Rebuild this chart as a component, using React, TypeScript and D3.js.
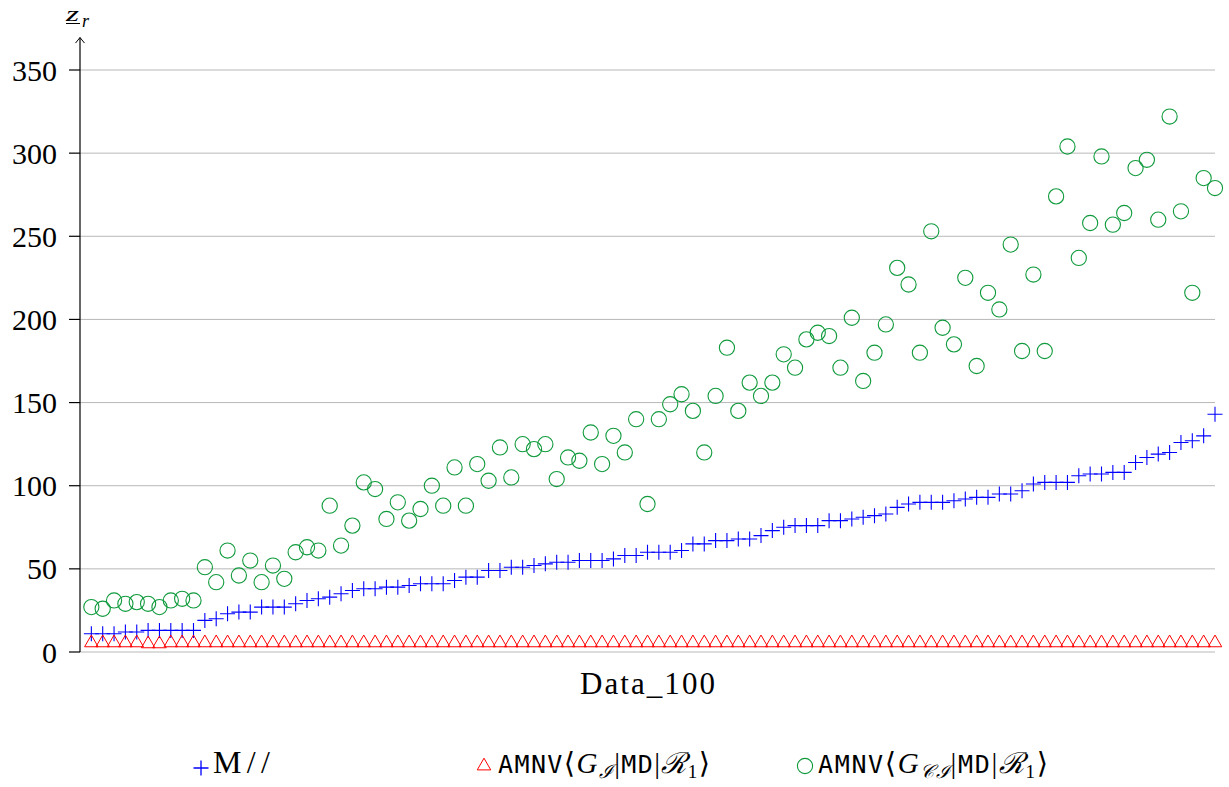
import React from 'react';
import * as d3 from 'd3';

const blueValues = [
  11, 11, 11, 12, 12, 13, 13, 13, 13, 13,
  19, 20, 23, 24, 24, 27, 27, 27, 29, 31,
  32, 33, 35, 37, 38, 38, 39, 39, 40, 41,
  41, 41, 43, 45, 45, 49, 49, 51, 51, 52,
  53, 54, 54, 55, 55, 55, 56, 58, 58, 60,
  60, 60, 61, 65, 65, 67, 67, 68, 68, 70,
  73, 75, 76, 76, 76, 79, 79, 80, 81, 82,
  83, 87, 89, 90, 90, 90, 91, 92, 93, 93,
  95, 95, 97, 101, 102, 102, 102, 106, 107, 107,
  108, 108, 114, 117, 119, 120, 126, 127, 130, 143,
];

const redValues = [
  5.5, 5.5, 5.5, 5.5, 5.5, 4.9, 4.9, 5.5, 5.5, 5.5,
  5.5, 5.5, 5.5, 5.5, 5.5, 5.5, 5.5, 5.5, 5.5, 5.5,
  5.5, 5.5, 5.5, 5.5, 5.5, 5.5, 5.5, 5.5, 5.5, 5.5,
  5.5, 5.5, 5.5, 5.5, 5.5, 5.5, 5.5, 5.5, 5.5, 5.5,
  5.5, 5.5, 5.5, 5.5, 5.5, 5.5, 5.5, 5.5, 5.5, 5.5,
  5.5, 5.5, 5.5, 5.5, 5.5, 5.5, 5.5, 5.5, 5.5, 5.5,
  5.5, 5.5, 5.5, 5.5, 5.5, 5.5, 5.5, 5.5, 5.5, 5.5,
  5.5, 5.5, 5.5, 5.5, 5.5, 5.5, 5.5, 5.5, 5.5, 5.5,
  5.5, 5.5, 5.5, 5.5, 5.5, 5.5, 5.5, 5.5, 5.5, 5.5,
  5.5, 5.5, 5.5, 5.5, 5.5, 5.5, 5.5, 5.5, 5.5, 5.5,
];

const greenValues = [
  27, 26, 31, 29, 30, 29, 27, 31, 32, 31,
  51, 42, 61, 46, 55, 42, 52, 44, 60, 63,
  61, 88, 64, 76, 102, 98, 80, 90, 79, 86,
  100, 88, 111, 88, 113, 103, 123, 105, 125, 122,
  125, 104, 117, 115, 132, 113, 130, 120, 140, 89,
  140, 149, 155, 145, 120, 154, 183, 145, 162, 154,
  162, 179, 171, 188, 192, 190, 171, 201, 163, 180,
  197, 231, 221, 180, 253, 195, 185, 225, 172, 216,
  206, 245, 181, 227, 181, 274, 304, 237, 258, 298,
  257, 264, 291, 296, 260, 322, 265, 216, 285, 279,
];

const yTicks = [0, 50, 100, 150, 200, 250, 300, 350];
const xLabel = 'Data_100';

const BLUE = '#0000ff';
const RED = '#ff0000';
const GREEN = '#0f9a3c';
const SERIF = '"Liberation Serif", "DejaVu Serif", serif';
const MONO = '"DejaVu Sans Mono", "Liberation Mono", monospace';

function plusPath(cx: number, cy: number, r: number) {
  return `M${cx - r},${cy}h${2 * r}M${cx},${cy - r}v${2 * r}`;
}
function triPath(cx: number, cy: number, r: number) {
  const h = r * 0.866;
  return `M${cx},${cy - r}L${cx + h},${cy + r / 2}L${cx - h},${cy + r / 2}Z`;
}

function LegendMath({ x0, width, sub }: { x0: number; width: number; sub: string }) {
  return (
    <text x={x0} y={773} fontFamily={SERIF} fontSize={29} fill="#000" textLength={width} lengthAdjust="spacing">
      <tspan fontFamily={MONO} fontSize={25}>AMNV</tspan>
      <tspan>⟨</tspan>
      <tspan fontStyle="italic">G</tspan>
      <tspan fontSize={19} dy={5} fontStyle="italic">{sub}</tspan>
      <tspan dy={-5}>|</tspan>
      <tspan fontFamily={MONO} fontSize={25}>MD</tspan>
      <tspan>|</tspan>
      <tspan fontStyle="italic">ℛ</tspan>
      <tspan fontSize={19} dy={5}>1</tspan>
      <tspan dy={-5}>⟩</tspan>
    </text>
  );
}

export default function App() {
  const W = 1229;
  const H = 787;
  const x = d3.scaleLinear().domain([0, 100]).range([80, 1215]);
  const y = d3.scaleLinear().domain([0, 350]).range([652, 70]);
  const idx = d3.range(1, 101);
  const axisTop = y(369.5);

  return (
    <svg width={W} height={H} style={{ position: 'absolute', left: 0, top: 0, background: '#fff' }}>
      {yTicks.map((t) => (
        <line key={'g' + t} x1={x(0)} x2={x(100)} y1={y(t)} y2={y(t)} stroke="#b8b8b8" strokeWidth={1} />
      ))}
      <line x1={x(0)} x2={x(0)} y1={y(0)} y2={axisTop} stroke="#000" strokeWidth={1.2} />
      <path
        d={`M${x(0) - 4.5},${axisTop + 5.5}L${x(0)},${axisTop}L${x(0) + 4.5},${axisTop + 5.5}`}
        fill="none"
        stroke="#000"
        strokeWidth={1}
      />
      {yTicks.map((t) => (
        <g key={'t' + t}>
          <line x1={x(0) - 11} x2={x(0)} y1={y(t)} y2={y(t)} stroke="#000" strokeWidth={1.2} />
          <text x={57} y={y(t)} dy="0.35em" textAnchor="end" fontFamily={SERIF} fontSize={30} fill="#000">
            {t}
          </text>
        </g>
      ))}
      <text x={66} y={21} fontFamily={SERIF} fontSize={22} fontStyle="italic" fill="#000" textLength={13} lengthAdjust="spacingAndGlyphs">
        z
      </text>
      <line x1={66} x2={80} y1={23.5} y2={23.5} stroke="#000" strokeWidth={1} />
      <text x={82} y={27} fontFamily={SERIF} fontSize={18} fontStyle="italic" fill="#000">
        r
      </text>
      <text x={580} y={694} fontFamily={SERIF} fontSize={31} fill="#000" textLength={135} lengthAdjust="spacing">
        {xLabel}
      </text>

      <g>
        {idx.map((i) => (
          <path key={'b' + i} d={plusPath(x(i), y(blueValues[i - 1]), 7.5)} stroke={BLUE} strokeWidth={1.1} fill="none" />
        ))}
      </g>
      <g>
        {idx.map((i) => (
          <path key={'r' + i} d={triPath(x(i), y(redValues[i - 1]), 7.8)} stroke={RED} strokeWidth={1} fill="none" />
        ))}
      </g>
      <g>
        {idx.map((i) => (
          <circle key={'c' + i} cx={x(i)} cy={y(greenValues[i - 1])} r={7.6} stroke={GREEN} strokeWidth={1.1} fill="none" />
        ))}
      </g>

      <path d={plusPath(201, 768, 7.5)} stroke={BLUE} strokeWidth={1.3} fill="none" />
      <text x={213} y={773} fontFamily={SERIF} fontSize={32} fill="#000" textLength={57} lengthAdjust="spacing">M//</text>

      <path d={triPath(484, 766, 7.8)} stroke={RED} strokeWidth={1} fill="none" />
      <LegendMath x0={498} width={212} sub="ℐ" />

      <circle cx={805} cy={766} r={7.6} stroke={GREEN} strokeWidth={1.1} fill="none" />
      <LegendMath x0={818} width={230} sub="𝒞ℐ" />
    </svg>
  );
}
